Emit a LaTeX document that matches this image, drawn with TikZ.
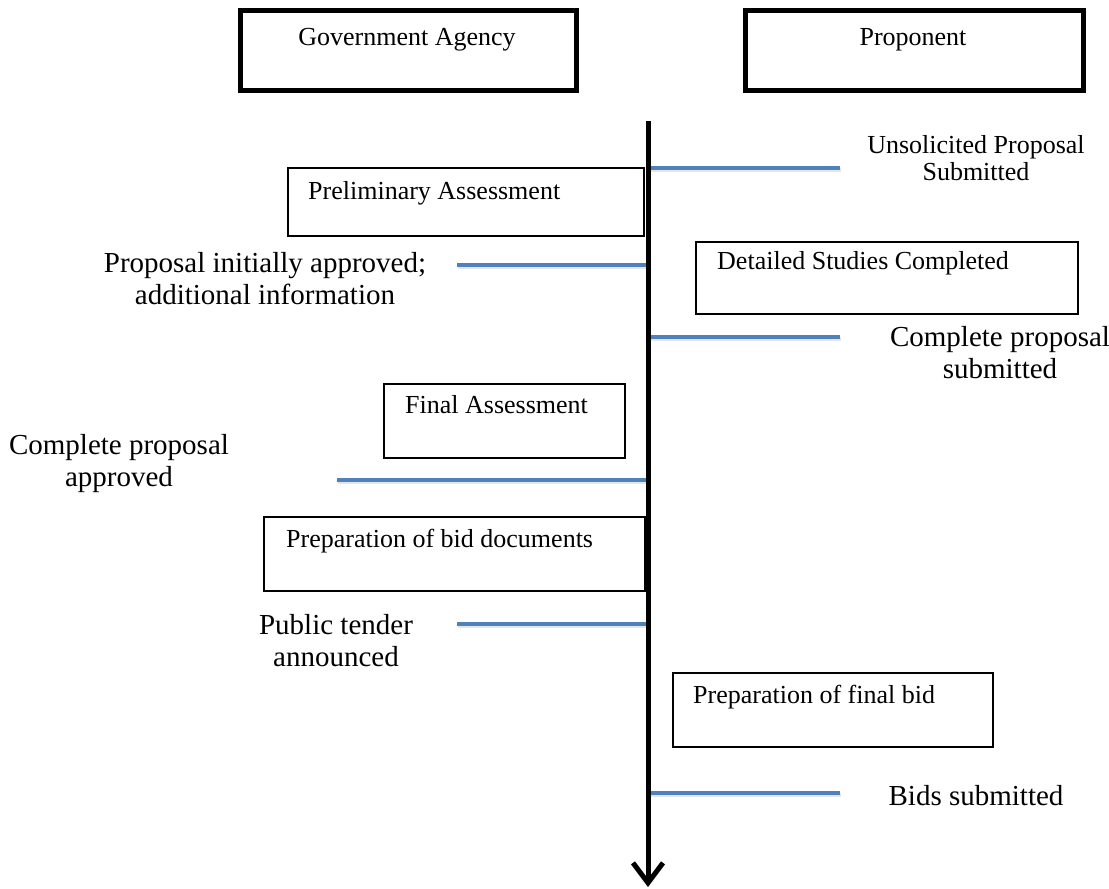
\documentclass[tikz,border=0pt]{standalone}
\usepackage{fontspec}
\setmainfont{Liberation Serif}
\usetikzlibrary{arrows.meta}
\definecolor{lineblue}{RGB}{79,129,189}
\begin{document}
\begin{tikzpicture}[x=1pt,y=-1pt,
  hdr/.style={draw=black, line width=5pt, inner sep=0pt, outer sep=0pt, anchor=north west},
  stepbox/.style={draw=black, line width=1.2pt, inner sep=0pt, outer sep=0pt, anchor=north west},
  hdrtext/.style={font=\fontsize{26}{27}\selectfont, inner sep=0pt, anchor=base},
  boxtext/.style={font=\fontsize{26}{27}\selectfont, inner sep=0pt, anchor=base west},
  lbl/.style={font=\fontsize{29}{32}\selectfont, align=center, inner sep=0pt},
  tick/.style={draw=lineblue, line width=4pt},
  tickshadow/.style={draw=black, line width=3.5pt, opacity=0.1},
  axis/.style={draw=black, line width=5pt, -{Straight Barb[length=20pt,width=30pt]}}]
\useasboundingbox (0,0) rectangle (1109,889);

% header boxes
\node[hdr, minimum width=336pt, minimum height=80pt] (gabox) at (240.5,10.5) {};
\node[hdrtext] (gatext) at (407,45) {Government Agency};
\node[hdr, minimum width=338pt, minimum height=80pt] (prbox) at (745,10.5) {};
\node[hdrtext] (prtext) at (913,45) {Proponent};

% step boxes
\node[stepbox, minimum width=356pt, minimum height=68pt] (prelim) at (288,168) {};
\node[boxtext] (prelimt) at (308,199) {Preliminary Assessment};
\node[stepbox, minimum width=382pt, minimum height=72pt] (detail) at (696,242) {};
\node[boxtext] (detailt) at (717,269) {Detailed Studies Completed};
\node[stepbox, minimum width=241pt, minimum height=74pt] (final) at (384,384) {};
\node[boxtext] (finalt) at (405,413) {Final Assessment};
\node[stepbox, minimum width=381pt, minimum height=74pt] (biddoc) at (264,517) {};
\node[boxtext] (biddoct) at (286,547) {Preparation of bid documents};
\node[stepbox, minimum width=320pt, minimum height=74pt] (finbid) at (673,673) {};
\node[boxtext] (finbidt) at (693,703) {Preparation of final bid};

% tick coordinates
\coordinate (a1) at (648,168); \coordinate (e1) at (840,168);
\coordinate (a2) at (648,265); \coordinate (e2) at (457,265);
\coordinate (a3) at (648,337); \coordinate (e3) at (840,337);
\coordinate (a4) at (648,480); \coordinate (e4) at (337,480);
\coordinate (a5) at (648,624); \coordinate (e5) at (457,624);
\coordinate (a6) at (648,793); \coordinate (e6) at (840,793);

\foreach \i in {1,...,6}{
  \draw[tickshadow] ([shift={(1,2)}]a\i) -- ([shift={(1,2)}]e\i);
  \draw[tick] (a\i) -- (e\i);
}

% main time axis
\coordinate (axtop) at (648,121);
\coordinate (axbot) at (648,887);
\draw[axis] (axtop) -- (axbot);

% labels
\node[font=\fontsize{26}{27}\selectfont, align=center, inner sep=0pt] (l1) at (976,158) {Unsolicited Proposal\\Submitted};
\node[lbl] (l2) at (265,279) {Proposal initially approved;\\additional information};
\node[lbl] (l3) at (1000,353) {Complete proposal\\submitted};
\node[lbl] (l4) at (119,464) {Complete proposal\\approved};
\node[lbl] (l5) at (336,641) {Public tender\\announced};
\node[lbl, anchor=base] (l6) at (976,805) {Bids submitted};
\end{tikzpicture}
\end{document}
